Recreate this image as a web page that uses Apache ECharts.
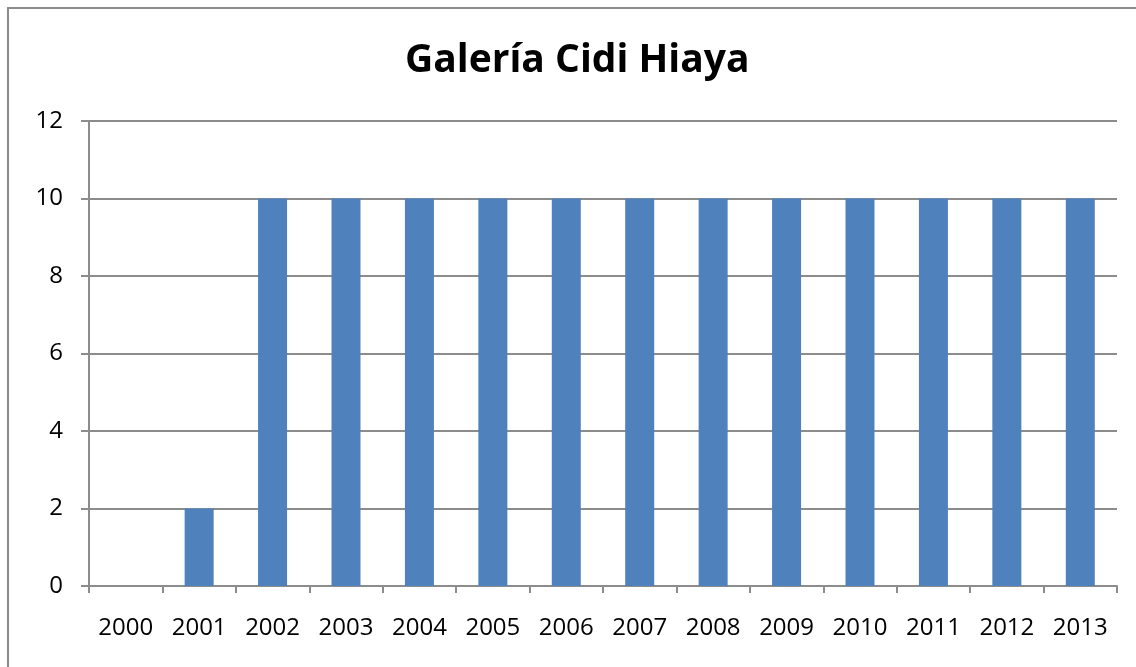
<!DOCTYPE html>
<html>
<head>
<meta charset="utf-8">
<script src="https://cdn.jsdelivr.net/npm/echarts@6/dist/echarts.min.js"></script>
<style>
  html, body { margin: 0; padding: 0; background: #fff; }
  #chart { width: 1136px; height: 667px; }
</style>
</head>
<body>
<div id="chart"></div>
<script>
var chartTitle = 'Galería Cidi Hiaya';
var years = ['2000', '2001', '2002', '2003', '2004', '2005', '2006', '2007', '2008', '2009', '2010', '2011', '2012', '2013'];
var values = [0, 2, 10, 10, 10, 10, 10, 10, 10, 10, 10, 10, 10, 10];

var myChart = echarts.init(document.getElementById('chart'));
var labelFont = '"Open Sans", Lato, sans-serif';

var option = {
    backgroundColor: '#ffffff',
    animation: false,
    title: {
        text: chartTitle,
        left: 400,
        top: 36,
        textStyle: {
            color: '#000',
            fontFamily: labelFont,
            fontWeight: 'bold',
            fontSize: 39
        }
    },
    // chart frame: only left and top edges show inside the window
    graphic: [{
        type: 'rect',
        shape: { x: 8, y: 8, width: 1200, height: 700 },
        style: { fill: 'none', stroke: '#8c8c8c', lineWidth: 2 },
        silent: true
    }],
    grid: {
        left: 89,
        right: 19,
        top: 121,
        bottom: 81
    },
    xAxis: {
        type: 'category',
        data: years,
        axisLine: { lineStyle: { color: '#8c8c8c', width: 2 } },
        axisTick: { show: true, length: 7, lineStyle: { color: '#8c8c8c', width: 2 } },
        axisLabel: {
            color: '#000',
            fontFamily: labelFont,
            fontSize: 24,
            margin: 30
        }
    },
    yAxis: {
        type: 'value',
        min: 0,
        max: 12,
        interval: 2,
        axisLine: { show: true, lineStyle: { color: '#8c8c8c', width: 2 } },
        axisTick: { show: true, length: 8, lineStyle: { color: '#8c8c8c', width: 2 } },
        axisLabel: {
            color: '#000',
            fontFamily: labelFont,
            fontSize: 24,
            margin: 26
        },
        splitLine: { lineStyle: { color: '#8c8c8c', width: 2 } }
    },
    series: [{
        type: 'bar',
        data: values,
        barWidth: 29,
        itemStyle: { color: '#4f81bd' }
    }]
};
myChart.setOption(option);
</script>
</body>
</html>
